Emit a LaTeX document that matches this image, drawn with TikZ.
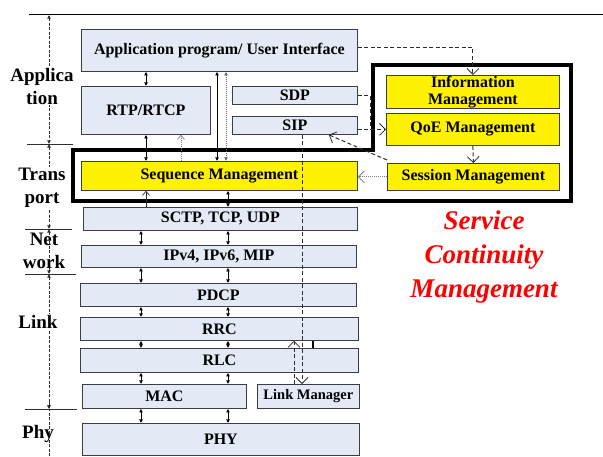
\documentclass[tikz,border=0pt]{standalone}
\usepackage{fontspec}
\setmainfont{Liberation Serif}
\usetikzlibrary{arrows.meta}
\definecolor{boxfill}{RGB}{228,234,245}
\definecolor{boxdraw}{RGB}{60,60,70}
\definecolor{dgray}{RGB}{45,45,45}
\begin{document}
\begin{tikzpicture}[x=1pt,y=-1pt,
  box/.style={draw=boxdraw,fill=boxfill,line width=0.8pt,anchor=north west,inner sep=0pt,
    font=\bfseries\fontsize{16}{17}\selectfont,align=center},
  ybox/.style={box,fill=yellow},
  sz/.style 2 args={minimum width=#1pt,minimum height=#2pt},
  lbl/.style={font=\bfseries\fontsize{19}{23}\selectfont,align=center,inner sep=1pt},
  stip/.tip={Latex[length=3.6pt,width=4pt]},
  otip/.tip={Straight Barb[length=6pt,width=12pt,line width=0.8pt]},
  sotip/.tip={Straight Barb[length=4pt,width=7pt,line width=0.7pt]},
  dbl/.style={stip-stip,line width=0.7pt},
  up/.style={-sotip,line width=0.6pt,dgray},
  dotup/.style={-sotip,line width=0.8pt,gray,dash pattern=on 1pt off 1pt},
  dotdbl/.style={stip-stip,line width=0.8pt,gray!80!black,dash pattern=on 1pt off 1pt},
  dsh/.style={-otip,dgray,line width=1pt,dash pattern=on 4pt off 2.5pt},
  dshn/.style={dgray,line width=1pt,dash pattern=on 4pt off 2.5pt},
  dotr/.style={-otip,gray,line width=1pt,dash pattern=on 1pt off 1pt},
  ldash/.style={stip-stip,dgray,line width=0.8pt,dash pattern=on 3pt off 1.5pt},
  sep/.style={line width=0.9pt,dgray}]
\useasboundingbox (0,0) rectangle (603,456);

% top line and layer separators
\draw[line width=0.9pt] (29,14) -- (603,14);
\draw[sep] (27,144) -- (73,144);
\draw[sep] (25,229) -- (72,229);
\draw[sep] (25,274) -- (76,274);
\draw[sep] (25,409) -- (77,409);

% layer dashed arrows
\coordinate (l0) at (49,15);
\coordinate (l1) at (49,144);
\coordinate (l2) at (49,229);
\coordinate (l3) at (49,274);
\coordinate (l4) at (49,409);
\coordinate (l5) at (49,456);
\draw[ldash] (l0) -- (l1);
\draw[ldash] (l1) -- (l2);
\draw[ldash] (l2) -- (l3);
\draw[ldash] (l3) -- (l4);
\draw[ldash,-] (l5) -- (l4);
\draw[-stip,dgray,line width=0.8pt] ([yshift=8pt]l4) -- (l4);

\node[lbl,fill=white] (lapp) at (42,86) {Applica\\tion};
\node[lbl,fill=white] (ltra) at (42,188) {Trans\\port};
\node[lbl] (lnet) at (44,251) {Net\\work};
\node[lbl,fill=white] (llnk) at (38,322) {Link};
\node[lbl] (lphy) at (38,434) {Phy};

% service continuity outline
\draw[line width=3.4pt] (73,150) -- (373,150) -- (373,65) -- (571,65) -- (571,201) -- (73,201) -- cycle;

% boxes
\node[box,sz={276}{42}] (app) at (81,29) {Application program/ User Interface};
\node[box,sz={129}{48}] (rtp) at (81,86) {RTP/RTCP};
\node[box,sz={125}{18}] (sdp) at (232,86) {SDP};
\node[box,sz={125}{18}] (sip) at (232,116) {SIP};
\node[ybox,sz={276}{29}] (seq) at (81,161) {Sequence Management};
\node[ybox,sz={173}{33},font=\bfseries\fontsize{16}{17.5}\selectfont] (info) at (386,75) {Information\\Management};
\node[ybox,sz={173}{32}] (qoe) at (386,113) {QoE Management};
\node[ybox,sz={172}{27}] (sess) at (387,163) {Session Management};
\node[box,sz={274}{23}] (sctp) at (83,207) {SCTP, TCP, UDP};
\node[box,sz={275}{22}] (ip) at (81,245) {IPv4, IPv6, MIP};
\node[box,sz={276}{23}] (pdcp) at (80,283) {PDCP};
\node[box,sz={278}{23}] (rrc) at (80,317) {RRC};
\node[box,sz={278}{24}] (rlc) at (80,348) {RLC};
\node[box,sz={164}{24}] (mac) at (82,384) {MAC};
\node[box,sz={102}{24},font=\bfseries\fontsize{14.5}{16}\selectfont] (lm) at (257,384) {Link Manager};
\node[box,sz={277}{32}] (phy) at (82,423) {PHY};

% service continuity label
\node[font=\bfseries\itshape\fontsize{27}{34}\selectfont,text=red,align=center] (scm) at (484,257) {Service\\Continuity\\Management};

% column coordinates
\coordinate (xa) at (146,0);
\coordinate (xr) at (181,0);
\coordinate (xs) at (217,0);
\coordinate (xt) at (226,0);
\coordinate (xL) at (141,0);
\coordinate (xR) at (228,0);
\coordinate (xd) at (302,0);
\coordinate (xe) at (294,0);
\coordinate (xk) at (313,0);
\coordinate (xv) at (370,0);

% stack connectors
\draw[dbl] (app.south -| xa) -- (rtp.north -| xa);
\draw[dbl] (rtp.south -| xa) -- (seq.north -| xa);
\draw[dotup] (seq.north -| xr) -- (rtp.south -| xr);
\draw[dbl] (app.south -| xs) -- (seq.north -| xs);
\draw[dotdbl] (app.south -| xt) -- (seq.north -| xt);
\draw[up] (sctp.north -| xa) -- (seq.south -| xa);
\draw[dbl] (seq.south -| xR) -- (sctp.north -| xR);
\draw[dbl] (sctp.south -| xL) -- (ip.north -| xL);
\draw[dbl] (sctp.south -| xR) -- (ip.north -| xR);
\draw[dbl] (ip.south -| xL) -- (pdcp.north -| xL);
\draw[dbl] (ip.south -| xR) -- (pdcp.north -| xR);
\draw[dbl] (pdcp.south -| xL) -- (rrc.north -| xL);
\draw[dbl] (pdcp.south -| xR) -- (rrc.north -| xR);
\draw[dbl] (rrc.south -| xL) -- (rlc.north -| xL);
\draw[dbl] (rrc.south -| xR) -- (rlc.north -| xR);
\draw[dbl] (rlc.south -| xL) -- (mac.north -| xL);
\draw[dbl] (rlc.south -| xR) -- (mac.north -| xR);
\draw[dbl] (mac.south -| xL) -- (phy.north -| xL);
\draw[dbl] (mac.south -| xR) -- (phy.north -| xR);

% link manager connectors
\draw[dsh] (sip.south -| xd) -- (lm.north -| xd);
\draw[dsh] (lm.north -| xe) -- (rrc.south -| xe);
\draw[line width=2.2pt] (rrc.south -| xk) -- (rlc.north -| xk);

% service continuity connectors
\draw[dsh] ([yshift=3pt]app.east) -| (info.north);
\draw[dshn] (sdp.east) -| (xv |- qoe.west);
\draw[dsh] (sip.east |- qoe.west) -- (qoe.west);
\draw[dsh] (qoe.south) -- (sess.north);
\draw[dotr] (sess.west) -- (sess.west -| seq.east);
\draw[dsh] ([yshift=3pt]sess.north west) -- ([xshift=-29pt]sip.south east);
\end{tikzpicture}
\end{document}
